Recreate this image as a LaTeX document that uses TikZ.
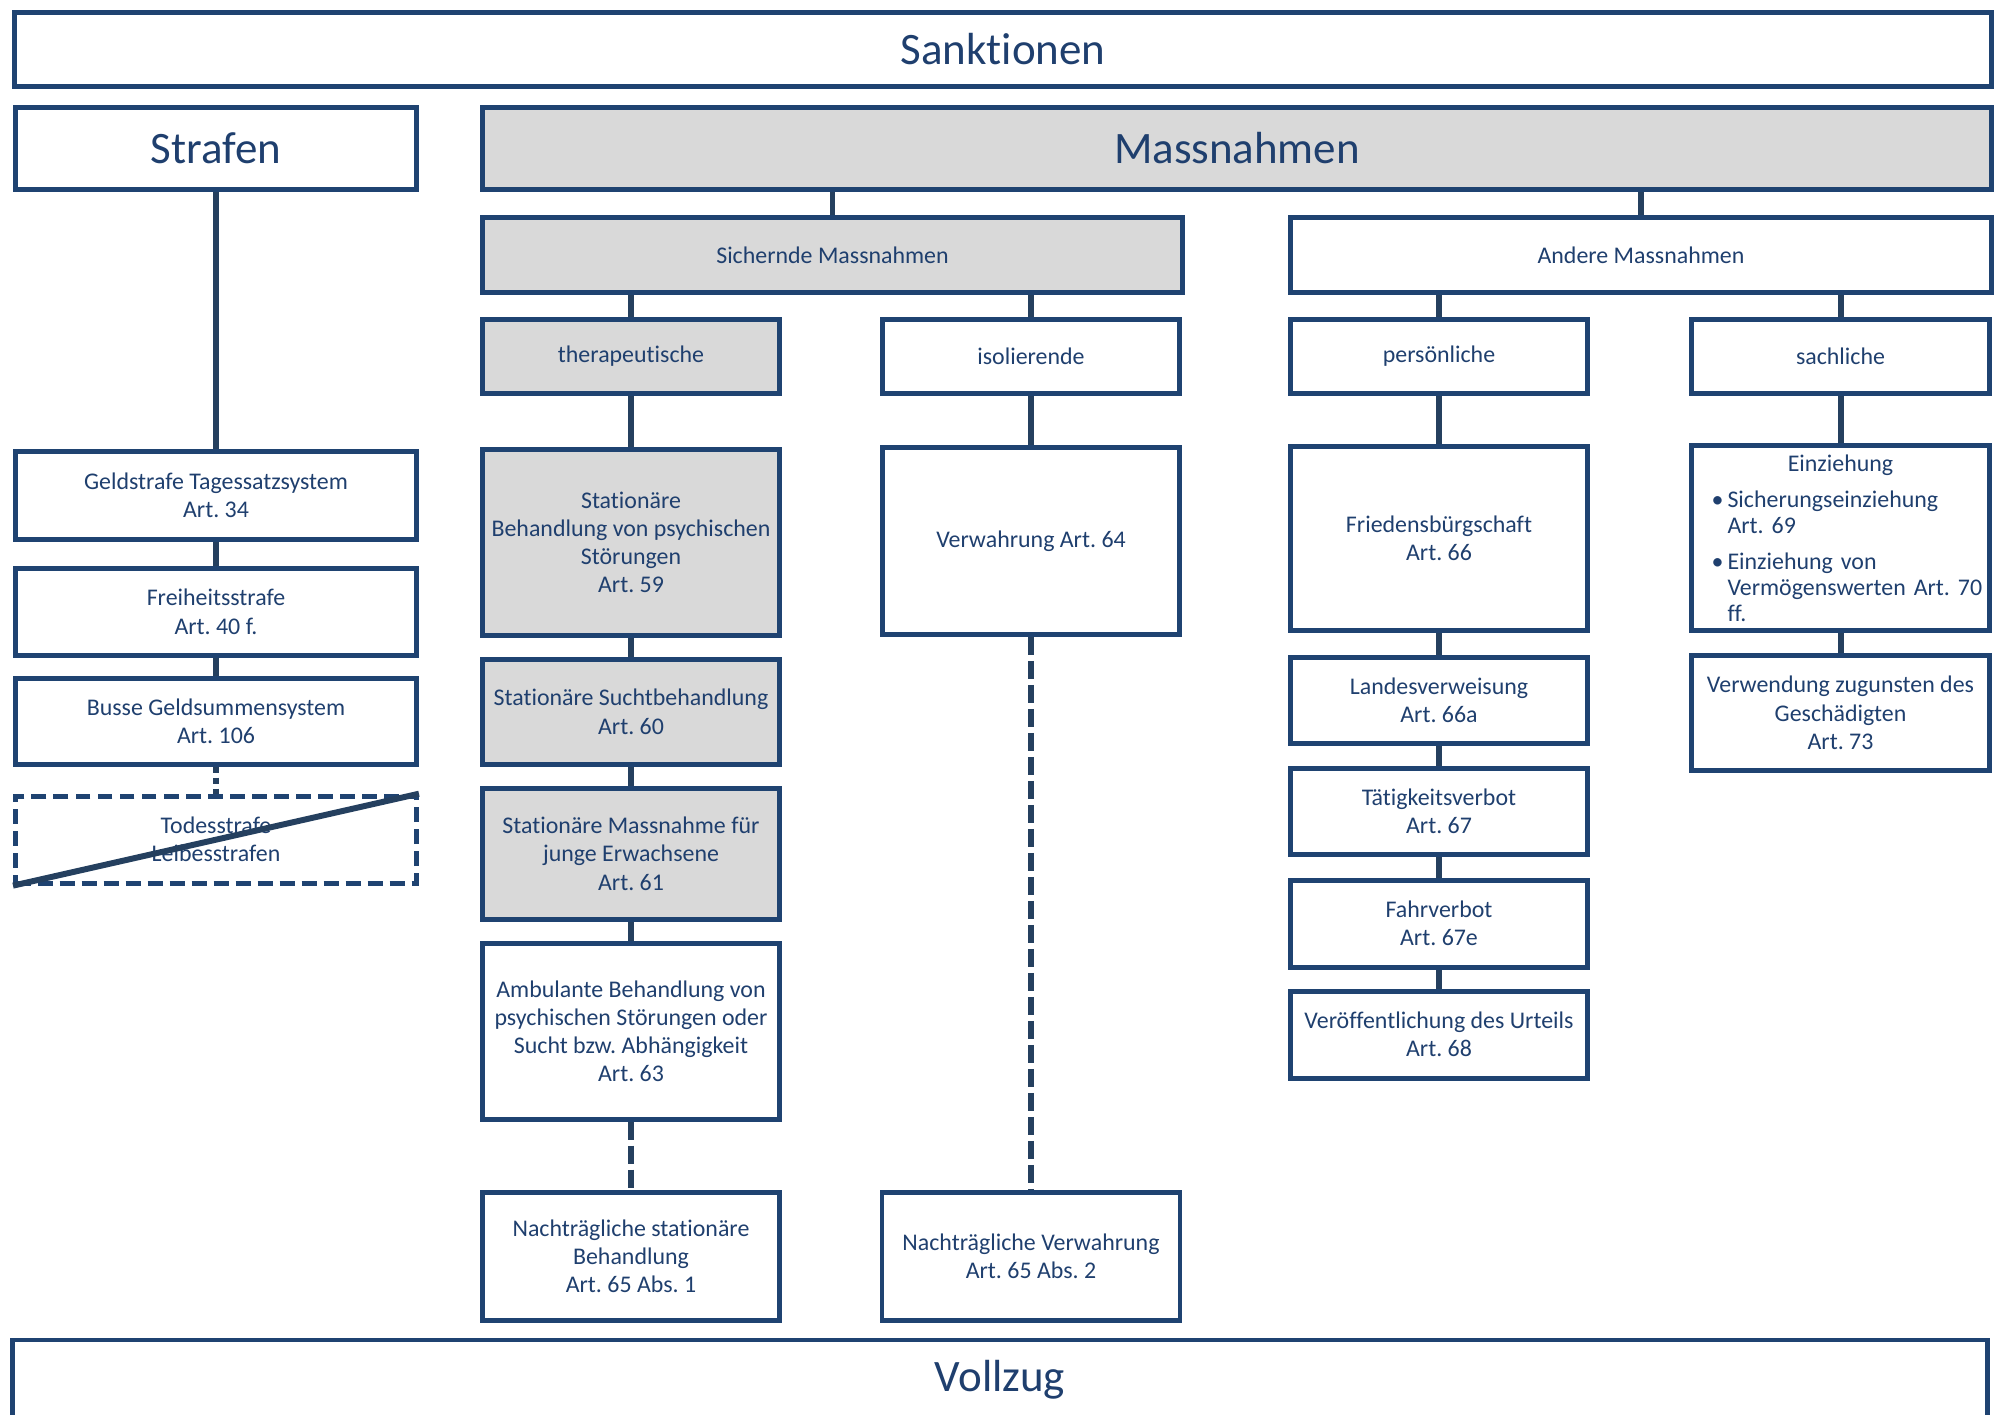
\documentclass[tikz,border=0pt]{standalone}
\usepackage{fontspec}
\setmainfont[Ligatures=NoCommon]{Carlito}
\usetikzlibrary{positioning}
\definecolor{boxblue}{HTML}{1F4371}
\definecolor{lineblue}{HTML}{25405F}
\definecolor{textblue}{HTML}{1F3F6E}
\definecolor{boxgray}{HTML}{D9D9D9}
\tikzstyle{bigbox} = [rectangle, draw=boxblue, line width=1.4pt, text=textblue, inner sep=0pt, text centered, font=\fontsize{12.8}{15}\selectfont]
\tikzstyle{smallbox} = [rectangle, draw=boxblue, line width=1.4pt, text=textblue, inner sep=0pt, align=center, font=\fontsize{6.8}{8}\selectfont]
\tikzstyle{shaded} = [fill=boxgray]
\tikzstyle{crossed} = [dash pattern=on 0.15cm off 0.07cm]
\tikzstyle{line} = [draw=lineblue, line width=1.7pt]
\tikzstyle{dashline} = [line, dash pattern=on 0.18cm off 0.06cm]
\tikzstyle{dotline} = [line, dash pattern=on 0.06cm off 0.05cm]
\frenchspacing

\begin{document}
\begin{tikzpicture}
\useasboundingbox (0,0) rectangle (20.11,-14.15);

\node (sank) [bigbox, minimum width=19.77cm, minimum height=0.74cm] at (10.03,-0.495) {Sanktionen};
\node (strafen) [bigbox, minimum width=4.01cm, minimum height=0.82cm] at (2.16,-1.485) {Strafen};
\node (mass) [bigbox, shaded, minimum width=15.09cm, minimum height=0.82cm] at (12.37,-1.485) {Massnahmen};
\node (vollzug) [bigbox, minimum width=19.75cm, minimum height=0.80cm] at (10.0,-13.80) {Vollzug};

\node (sich) [smallbox, shaded, minimum width=7.0cm, minimum height=0.75cm] at (8.325,-2.55) {Sichernde Massnahmen};
\node (andere) [smallbox, minimum width=7.01cm, minimum height=0.75cm] at (16.41,-2.55) {Andere Massnahmen};
\node (thera) [smallbox, shaded, minimum width=2.97cm, minimum height=0.74cm] at (6.31,-3.565) {therapeutische};
\node (iso) [smallbox, minimum width=2.97cm, minimum height=0.74cm] at (10.31,-3.565) {isolierende};
\node (pers) [smallbox, minimum width=2.97cm, minimum height=0.74cm] at (14.39,-3.565) {persönliche};
\node (sach) [smallbox, minimum width=2.98cm, minimum height=0.74cm] at (18.405,-3.565) {sachliche};

\node (geld) [smallbox, minimum width=4.01cm, minimum height=0.88cm, below=2.57cm of strafen] {Geldstrafe Tagessatzsystem\\Art. 34};
\node (frei) [smallbox, minimum width=4.01cm, minimum height=0.87cm, below=0.24cm of geld] {Freiheitsstrafe\\Art. 40 f.};
\node (busse) [smallbox, minimum width=4.01cm, minimum height=0.86cm, below=0.18cm of frei] {Busse Geldsummensystem\\Art. 106};
\node (todes) [smallbox, crossed, minimum width=4.01cm, minimum height=0.87cm, below=0.27cm of busse] {Todesstrafe\\Leibesstrafen};

\node (stat) [smallbox, shaded, minimum width=2.97cm, minimum height=1.86cm, below=0.51cm of thera] {Stationäre\\Behandlung von psychischen\\Störungen\\Art. 59};
\node (sucht) [smallbox, shaded, minimum width=2.97cm, minimum height=1.05cm, below=0.19cm of stat] {Stationäre Suchtbehandlung\\Art. 60};
\node (junge) [smallbox, shaded, minimum width=2.97cm, minimum height=1.31cm, below=0.19cm of sucht] {Stationäre Massnahme für\\junge Erwachsene\\Art. 61};
\node (ambul) [smallbox, minimum width=2.97cm, minimum height=1.76cm, below=0.19cm of junge] {Ambulante Behandlung von\\psychischen Störungen oder\\Sucht bzw. Abhängigkeit\\Art. 63};
\node (nachstat) [smallbox, minimum width=2.97cm, minimum height=1.28cm, below=0.68cm of ambul] {Nachträgliche stationäre\\Behandlung\\Art. 65 Abs. 1};

\node (verw) [smallbox, minimum width=2.97cm, minimum height=1.87cm, below=0.49cm of iso] {Verwahrung Art. 64};
\node (nachverw) [smallbox, minimum width=2.98cm, minimum height=1.28cm, below=5.53cm of verw] {Nachträgliche Verwahrung\\Art. 65 Abs. 2};

\node (fried) [smallbox, minimum width=2.97cm, minimum height=1.84cm, below=0.48cm of pers] {Friedensbürgschaft\\Art. 66};
\node (landes) [smallbox, minimum width=2.97cm, minimum height=0.86cm, below=0.22cm of fried] {Landesverweisung\\Art. 66a};
\node (taetig) [smallbox, minimum width=2.97cm, minimum height=0.86cm, below=0.20cm of landes] {Tätigkeitsverbot\\Art. 67};
\node (fahr) [smallbox, minimum width=2.97cm, minimum height=0.87cm, below=0.21cm of taetig] {Fahrverbot\\Art. 67e};
\node (urteil) [smallbox, minimum width=2.97cm, minimum height=0.87cm, below=0.19cm of fahr] {Veröffentlichung des Urteils\\Art. 68};

\node (einz) [smallbox, align=left, text width=2.9cm, minimum width=2.98cm, minimum height=1.85cm, below=0.47cm of sach, font=\fontsize{6.8}{7.4}\selectfont] {\makebox[2.9cm][c]{Einziehung}\\[0.1cm]\hspace*{0.16cm}\makebox[0.16cm][l]{\textbullet}Sicherungseinziehung\\\hspace*{0.32cm}Art. 69\\[0.1cm]\hspace*{0.16cm}\makebox[0.16cm][l]{\textbullet}Einziehung von\\\hspace*{0.32cm}Vermögenswerten Art. 70\\\hspace*{0.32cm}ff.};
\node (geschaed) [smallbox, minimum width=2.98cm, minimum height=1.15cm, below=0.20cm of einz] {Verwendung zugunsten des\\Geschädigten\\Art. 73};

\draw [line] (strafen) -- (geld);
\draw [line] (geld) -- (frei);
\draw [line] (frei) -- (busse);
\draw [dotline] (busse) -- (todes);
\draw [line] (todes.south west) -- (todes.north east);

\draw [line] (sich.north |- mass.south) -- (sich);
\draw [line] (andere.north |- mass.south) -- (andere);
\draw [line] (thera.north |- sich.south) -- (thera);
\draw [line] (iso.north |- sich.south) -- (iso);
\draw [line] (pers.north |- andere.south) -- (pers);
\draw [line] (sach.north |- andere.south) -- (sach);

\draw [line] (thera) -- (stat);
\draw [line] (stat) -- (sucht);
\draw [line] (sucht) -- (junge);
\draw [line] (junge) -- (ambul);
\draw [dashline] (ambul) -- (nachstat);

\draw [line] (iso) -- (verw);
\draw [dashline] (verw) -- (nachverw);

\draw [line] (pers) -- (fried);
\draw [line] (fried) -- (landes);
\draw [line] (landes) -- (taetig);
\draw [line] (taetig) -- (fahr);
\draw [line] (fahr) -- (urteil);

\draw [line] (sach) -- (einz);
\draw [line] (einz) -- (geschaed);

\end{tikzpicture}
\end{document}
